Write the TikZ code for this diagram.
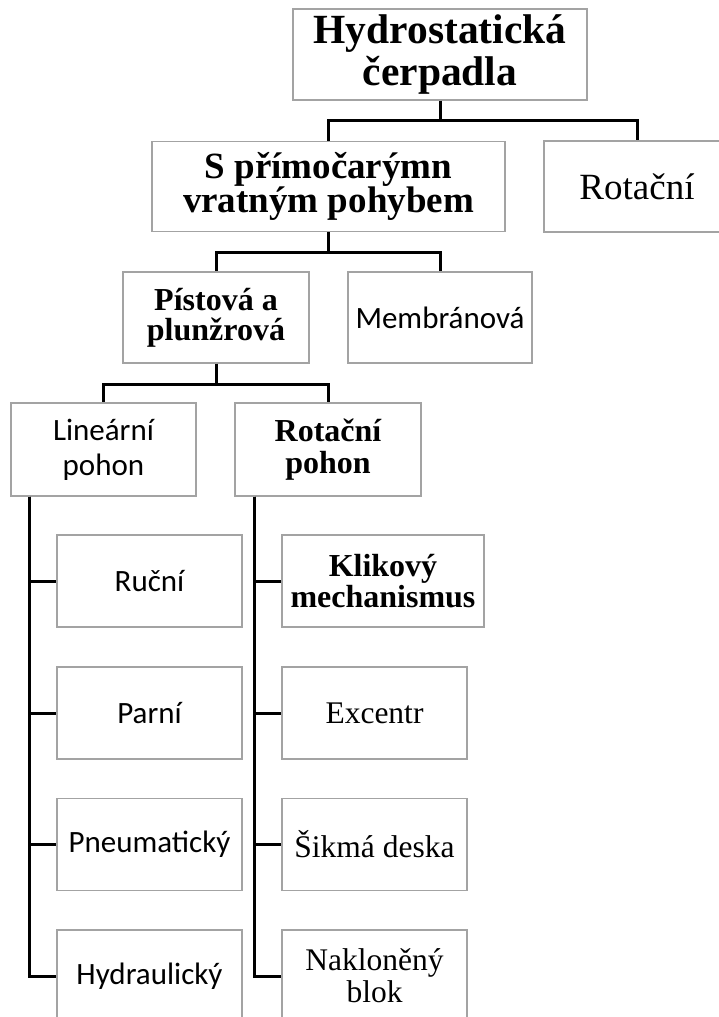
\documentclass[tikz,border=0pt]{standalone}
\usepackage{fontspec}
\setmainfont{Liberation Serif}
\newfontfamily\calfont{Carlito}
\newcommand\tightls{\lineskiplimit=-60pt\relax}
\begin{document}
\begin{tikzpicture}[x=1pt,y=-1pt,
  box/.style={draw=black!36, line width=1.2pt, fill=white, rectangle, inner sep=0pt, align=center, text=black},
  conn/.style={draw=black, line width=3pt},
  big/.style={font=\fontsize{41.5}{42}\selectfont\bfseries\tightls},
  lvone/.style={font=\fontsize{37}{34}\selectfont\bfseries\tightls},
  lvonereg/.style={font=\fontsize{37}{40}\selectfont},
  sbold/.style={font=\fontsize{32}{30}\selectfont\bfseries\tightls},
  sreg/.style={font=\fontsize{31.5}{32}\selectfont\tightls},
  scal/.style={font=\calfont\fontsize{31}{35}\selectfont\tightls},
]
\useasboundingbox (0,0) rectangle (718,1017);
\fill[white] (0,0) rectangle (718,1017);

% nodes
\node[box,big,minimum width=294pt,minimum height=91pt] (top) at (440,54.5) {Hydrostatická\\čerpadla};
\node[box,lvone,minimum width=353pt,minimum height=90pt] (s) at (328.5,186.5) {S přímočarýmn\\vratným pohybem};
\node[box,lvonereg,minimum width=186pt,minimum height=91pt] (rot) at (637,186.5) {Rotační};
\node[box,sbold,minimum width=186pt,minimum height=91pt] (pist) at (216,317.5) {Pístová a\\plunžrová};
\node[box,scal,minimum width=184pt,minimum height=91pt] (memb) at (440,317.5) {Membránová};
\node[box,scal,minimum width=185pt,minimum height=93pt] (lin) at (103.5,449.5) {Lineární\\pohon};
\node[box,sbold,minimum width=186pt,minimum height=93pt,font=\fontsize{32}{32}\selectfont\bfseries\tightls] (rotp) at (328,449.5) {Rotační\\pohon};

\node[box,scal,minimum width=185pt,minimum height=92pt] (ruc) at (149.5,581) {Ruční};
\node[box,scal,minimum width=185pt,minimum height=92pt] (par) at (149.5,713) {Parní};
\node[box,scal,minimum width=185pt,minimum height=92pt] (pne) at (149.5,844.5) {Pneumatický};
\node[box,scal,minimum width=185pt,minimum height=92pt] (hyd) at (149.5,976) {Hydraulický};

\node[box,sbold,minimum width=202pt,minimum height=92pt,font=\fontsize{32}{31}\selectfont\bfseries\tightls] (kli) at (383,581) {Klikový\\mechanismus};
\node[box,sreg,minimum width=185pt,minimum height=92pt] (exc) at (374.5,713) {Excentr};
\node[box,sreg,minimum width=185pt,minimum height=92pt] (sik) at (374.5,844.5) {Šikmá deska};
\node[box,sreg,minimum width=185pt,minimum height=92pt] (nak) at (374.5,976) {Nakloněný\\blok};

% bus levels
\coordinate (b1) at (0,120);
\coordinate (b2) at (0,252);
\coordinate (b3) at (0,384);
\coordinate (lsp) at (29,0);
\coordinate (rsp) at (254,0);

% connectors
\draw[conn] (top.south) -- (top.south |- b1) -| (s.north);
\draw[conn] (top.south |- b1) -| (rot.north);
\draw[conn] (s.south) -- (s.south |- b2) -| (pist.north);
\draw[conn] (s.south |- b2) -| (memb.north);
\draw[conn] (pist.south) -- (pist.south |- b3) -| (lin.north);
\draw[conn] (pist.south |- b3) -| (rotp.north);

\draw[conn] (lin.south -| lsp) |- (ruc.west);
\draw[conn] (lin.south -| lsp) |- (par.west);
\draw[conn] (lin.south -| lsp) |- (pne.west);
\draw[conn] (lin.south -| lsp) |- (hyd.west);

\draw[conn] (rotp.south -| rsp) |- (kli.west);
\draw[conn] (rotp.south -| rsp) |- (exc.west);
\draw[conn] (rotp.south -| rsp) |- (sik.west);
\draw[conn] (rotp.south -| rsp) |- (nak.west);
\end{tikzpicture}
\end{document}
